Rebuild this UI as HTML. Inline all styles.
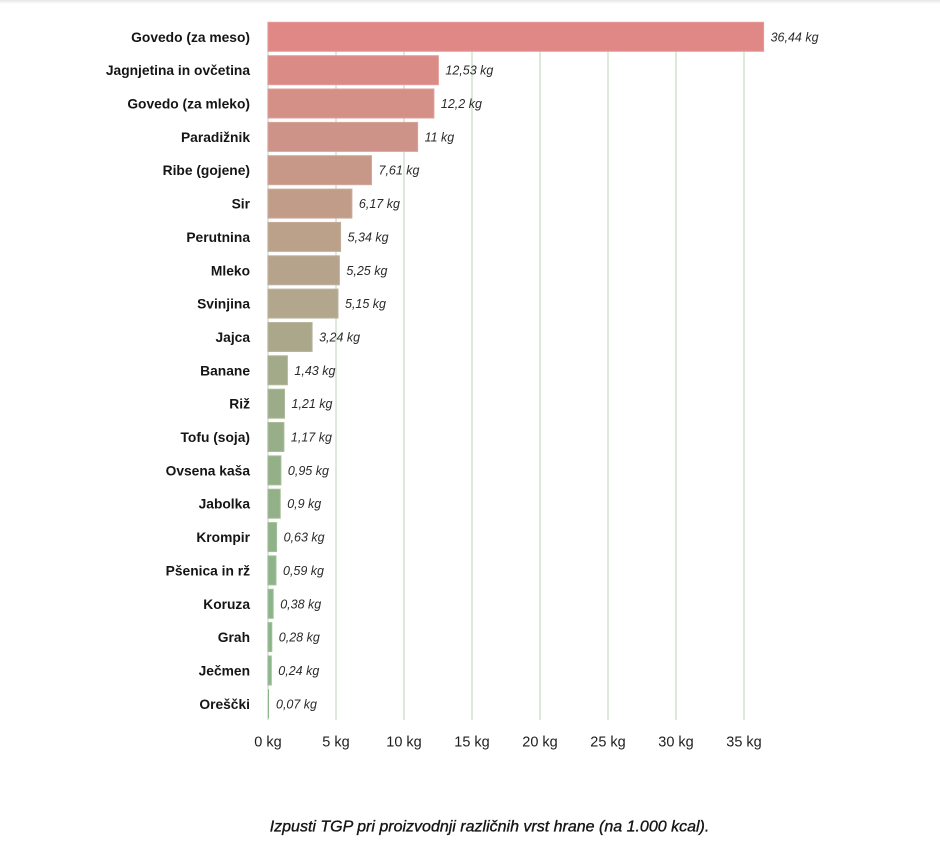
<!DOCTYPE html>
<html>
<head>
<meta charset="utf-8">
<style>
  html, body { margin: 0; padding: 0; background: #ffffff; }
  body { width: 940px; height: 844px; overflow: hidden; position: relative; }
  svg { position: absolute; left: 0; top: 0; }
  .cat { font-family: "Liberation Sans", sans-serif; font-weight: bold; font-size: 13.8px; fill: #151515; }
  .val { font-family: "Liberation Sans", sans-serif; font-style: italic; font-size: 12.5px; fill: #2a2a2a; }
  .tick { font-family: "Liberation Sans", sans-serif; font-size: 14.5px; fill: #1e1e1e; }
  .cap { font-family: "Liberation Sans", sans-serif; font-style: italic; font-size: 16px; fill: #151515; stroke: #151515; stroke-width: 0.35px; }
</style>
</head>
<body>
<svg width="940" height="844" viewBox="0 0 940 844" xmlns="http://www.w3.org/2000/svg">
  <defs>
    <linearGradient id="topshade" x1="0" y1="0" x2="0" y2="1">
      <stop offset="0" stop-color="#e6e6e6"/>
      <stop offset="1" stop-color="#ffffff"/>
    </linearGradient>
  </defs>
  <rect x="0" y="0" width="940" height="4" fill="url(#topshade)"/>

  <!-- gridlines -->
  <g stroke="#d2e2cf" stroke-width="1.5">
    <line x1="268" y1="22" x2="268" y2="720"/>
    <line x1="336" y1="22" x2="336" y2="720"/>
    <line x1="404" y1="22" x2="404" y2="720"/>
    <line x1="472" y1="22" x2="472" y2="720"/>
    <line x1="540" y1="22" x2="540" y2="720"/>
    <line x1="608" y1="22" x2="608" y2="720"/>
    <line x1="676" y1="22" x2="676" y2="720"/>
    <line x1="744" y1="22" x2="744" y2="720"/>
  </g>

  <!-- bars -->
  <g stroke-width="1">
    <rect x="268" y="22.3" width="495.6" height="29" fill="#e08886" stroke="#e69a98"/>
    <rect x="268" y="55.7" width="170.4" height="29" fill="#da8b86" stroke="#e09d98"/>
    <rect x="268" y="89.0" width="165.9" height="29" fill="#d48f87" stroke="#dba09a"/>
    <rect x="268" y="122.4" width="149.6" height="29" fill="#ce9388" stroke="#d6a49a"/>
    <rect x="268" y="155.7" width="103.5" height="29" fill="#c79888" stroke="#d0a89a"/>
    <rect x="268" y="189.1" width="83.9" height="29" fill="#c19c89" stroke="#cbab9a"/>
    <rect x="268" y="222.4" width="72.6" height="29" fill="#bba08a" stroke="#c6ae9b"/>
    <rect x="268" y="255.8" width="71.4" height="29" fill="#b6a38b" stroke="#c2b19c"/>
    <rect x="268" y="289.1" width="70.0" height="29" fill="#b2a68c" stroke="#beb39d"/>
    <rect x="268" y="322.5" width="44.1" height="29" fill="#aaa78a" stroke="#b8b59b"/>
    <rect x="268" y="355.8" width="19.4" height="29" fill="#a2aa89" stroke="#b1b89a"/>
    <rect x="268" y="389.2" width="16.5" height="29" fill="#9cac88" stroke="#adba9a"/>
    <rect x="268" y="422.5" width="15.9" height="29" fill="#98ae88" stroke="#a9bc99"/>
    <rect x="268" y="455.9" width="12.9" height="29" fill="#94b088" stroke="#a6bd99"/>
    <rect x="268" y="489.2" width="12.2" height="29" fill="#92b188" stroke="#a4be99"/>
    <rect x="268" y="522.6" width="8.6" height="29" fill="#90b288" stroke="#a2bf99"/>
    <rect x="268" y="555.9" width="8.0" height="29" fill="#8eb389" stroke="#a0c09a"/>
    <rect x="268" y="589.3" width="5.2" height="29" fill="#8db489" stroke="#9fc09a"/>
    <rect x="268" y="622.6" width="3.8" height="29" fill="#8cb48a" stroke="#9ec19b"/>
    <rect x="268" y="656.0" width="3.3" height="29" fill="#8bb58a" stroke="#9dc19b"/>
    <rect x="268" y="689.3" width="1.0" height="29" fill="#8ab58a" stroke="none"/>
  </g>

  <!-- category labels -->
  <g class="cat" text-anchor="end">
    <text x="250" y="41.8">Govedo (za meso)</text>
    <text x="250" y="75.2">Jagnjetina in ovčetina</text>
    <text x="250" y="108.5">Govedo (za mleko)</text>
    <text x="250" y="141.9">Paradižnik</text>
    <text x="250" y="175.2">Ribe (gojene)</text>
    <text x="250" y="208.6">Sir</text>
    <text x="250" y="241.9">Perutnina</text>
    <text x="250" y="275.3">Mleko</text>
    <text x="250" y="308.6">Svinjina</text>
    <text x="250" y="342.0">Jajca</text>
    <text x="250" y="375.3">Banane</text>
    <text x="250" y="408.7">Riž</text>
    <text x="250" y="442.0">Tofu (soja)</text>
    <text x="250" y="475.4">Ovsena kaša</text>
    <text x="250" y="508.7">Jabolka</text>
    <text x="250" y="542.1">Krompir</text>
    <text x="250" y="575.4">Pšenica in rž</text>
    <text x="250" y="608.8">Koruza</text>
    <text x="250" y="642.1">Grah</text>
    <text x="250" y="675.5">Ječmen</text>
    <text x="250" y="708.8">Oreščki</text>
  </g>

  <!-- value labels -->
  <g class="val">
    <text x="770.6" y="41.3">36,44 kg</text>
    <text x="445.4" y="74.7">12,53 kg</text>
    <text x="440.9" y="108.0">12,2 kg</text>
    <text x="424.6" y="141.4">11 kg</text>
    <text x="378.5" y="174.7">7,61 kg</text>
    <text x="358.9" y="208.1">6,17 kg</text>
    <text x="347.6" y="241.4">5,34 kg</text>
    <text x="346.4" y="274.8">5,25 kg</text>
    <text x="345.0" y="308.1">5,15 kg</text>
    <text x="319.1" y="341.5">3,24 kg</text>
    <text x="294.4" y="374.8">1,43 kg</text>
    <text x="291.5" y="408.2">1,21 kg</text>
    <text x="290.9" y="441.5">1,17 kg</text>
    <text x="287.9" y="474.9">0,95 kg</text>
    <text x="287.2" y="508.2">0,9 kg</text>
    <text x="283.6" y="541.6">0,63 kg</text>
    <text x="283.0" y="574.9">0,59 kg</text>
    <text x="280.2" y="608.3">0,38 kg</text>
    <text x="278.8" y="641.6">0,28 kg</text>
    <text x="278.3" y="675.0">0,24 kg</text>
    <text x="276.0" y="708.3">0,07 kg</text>
  </g>

  <!-- x tick labels -->
  <g class="tick" text-anchor="middle">
    <text x="268" y="746.5">0 kg</text>
    <text x="336" y="746.5">5 kg</text>
    <text x="404" y="746.5">10 kg</text>
    <text x="472" y="746.5">15 kg</text>
    <text x="540" y="746.5">20 kg</text>
    <text x="608" y="746.5">25 kg</text>
    <text x="676" y="746.5">30 kg</text>
    <text x="744" y="746.5">35 kg</text>
  </g>

  <!-- caption -->
  <text class="cap" x="489.5" y="831.5" text-anchor="middle">Izpusti TGP pri proizvodnji različnih vrst hrane (na 1.000 kcal).</text>
</svg>
</body>
</html>
